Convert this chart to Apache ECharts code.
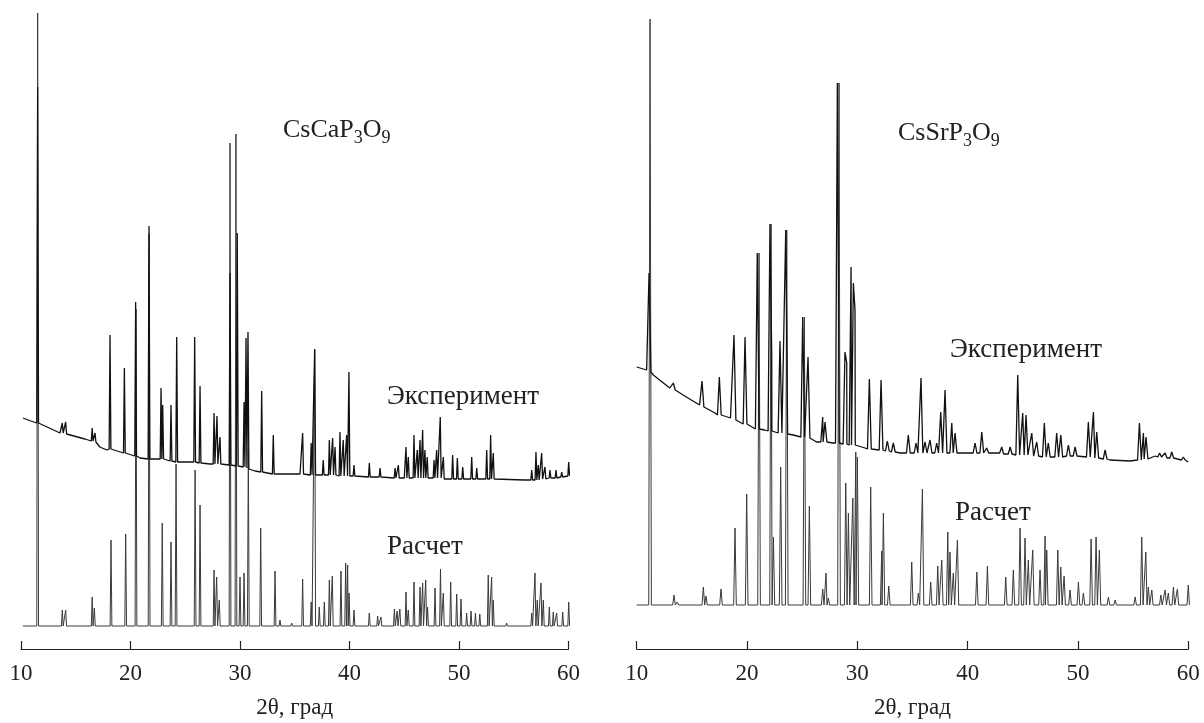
<!DOCTYPE html>
<html><head><meta charset="utf-8">
<script src="https://cdn.jsdelivr.net/npm/echarts@6/dist/echarts.min.js"></script>
<style>html,body{margin:0;padding:0;background:#fff}#c{width:1204px;height:723px}</style>
</head><body><div id="c"></div>
<script>
// ---- DATA (2θ in degrees, intensity in arbitrary units) ----
const xTicks = [10, 20, 30, 40, 50, 60];
const labelsLeft = { formula: ['CsCaP', '3', 'O', '9'], exp: 'Эксперимент', calc: 'Расчет' };
const labelsRight = { formula: ['CsSrP', '3', 'O', '9'], exp: 'Эксперимент', calc: 'Расчет' };
const axisTitle = '2θ, град';

// Left panel (CsCaP3O9): experimental background [2θ, I]
const caExpBackground = [[10.18,231],[10.9,228],[11.74,226],[13.56,216],[15.84,210],[17.2,202],[17.85,199],[20.87,191],[24.52,187],[27.26,185],[29.09,184],[31.37,178],[33.2,175],[35.48,175],[40,173],[45,171],[52,170],[56,169],[59,172],[60.1,173]];
// experimental peaks [2θ, top, local background]
const caExpPeaks = [[11.52,562,226],[13.77,226,216],[14.08,227,215],[16.5,221,208],[16.76,216,207],[18.13,314,200],[19.44,281,196],[20.47,347,193],[21.69,423,190],[22.79,261,190],[22.94,244,190],[23.7,244,188],[24.22,312,187],[25.86,312,187],[26.35,263,186],[27.63,236,185],[27.9,233,185],[28.17,212,185],[29.09,376,184],[29.75,416,183],[30.37,247,182],[30.55,311,181],[30.73,317,180],[31.98,258,177],[33.04,214,175],[34.72,177,175],[35.72,216,175],[36.5,206,174],[36.82,300,174],[37.6,189,174],[38.16,209,174],[38.46,211,174],[38.68,202,174],[39.13,217,173],[39.43,209,173],[39.74,214,173],[39.95,277,173],[40.41,184,173],[41.81,186,172],[42.79,181,172],[44.16,181,171],[44.46,184,171],[45.16,202,171],[45.37,192,171],[45.89,214,171],[46.19,199,171],[46.44,209,171],[46.68,219,171],[46.89,199,171],[47.1,192,171],[47.72,189,171],[47.96,199,171],[48.29,232,171],[48.57,192,170],[49.42,194,170],[49.85,191,170],[50.34,182,170],[51.16,192,170],[51.62,181,170],[52.53,199,170],[52.89,214,170],[53.13,196,170],[56.64,179,169],[57.03,197,169],[57.24,184,169],[57.55,196,170],[57.85,182,170],[58.31,179,171],[58.86,179,171],[59.38,177,172],[60.02,187,173]];
// calculated pattern: background level and peaks [2θ, top]
const caCalcBackground = 23;
const caCalcRange = [10.18, 60.1];
const caCalcPeaks = [[11.52,636],[13.77,39],[14.08,39],[16.5,52],[16.7,41],[18.22,109],[19.56,115],[20.5,340],[21.7,415],[22.9,126],[23.7,107],[24.16,185],[25.9,179],[26.35,144],[27.63,79],[27.87,72],[28.11,49],[29.09,506],[29.63,515],[30.0,72],[30.37,76],[30.76,200],[31.89,121],[33.2,78],[33.65,29],[34.72,26],[35.72,70],[36.5,47],[36.82,299],[37.24,42],[37.7,47],[38.16,69],[38.43,73],[39.22,78],[39.65,86],[39.83,84],[39.96,56],[40.41,39],[41.81,36],[42.57,33],[42.87,32],[44.1,40],[44.35,38],[44.6,40],[45.16,57],[45.37,39],[45.89,67],[46.44,62],[46.68,66],[46.96,69],[47.13,42],[47.81,61],[48.31,80],[48.57,56],[49.24,67],[49.79,55],[50.18,50],[50.7,36],[51.1,38],[51.5,36],[51.9,35],[52.67,74],[52.98,72],[53.13,49],[54.35,26],[56.64,36],[56.94,76],[57.15,49],[57.49,66],[57.7,49],[58.25,42],[58.61,37],[58.92,36],[59.47,37],[60.02,47]];

// Right panel (CsSrP3O9)
const srExpBackground = [[10.0,282],[10.9,279],[11.5,274],[13.0,261],[14.5,252],[15.7,244],[17.1,236],[18.5,231],[20.0,224],[21.6,219],[24.2,214],[26.3,207],[27.8,206],[30.7,201],[33.9,196],[38.4,196],[42.9,196],[47.0,192],[50.0,193],[52.9,189],[54.7,188],[57.0,193],[59.0,190],[60.0,187]];
const srExpPeaks = [[11.12,376,277],[13.32,266,259],[15.92,268,242],[17.49,272,234],[18.82,314,229],[19.82,312,225],[20.93,396,220],[22.08,425,218],[22.24,294,218],[22.99,308,216],[23.51,419,215],[25.05,332,212],[25.53,292,211],[26.86,232,207],[27.07,227,207],[28.19,566,206],[28.88,297,205],[29.04,286,205],[29.43,382,204],[29.64,366,204],[29.79,339,204],[31.09,270,200],[32.15,269,199],[32.72,208,198],[33.26,206,197],[34.62,214,196],[35.32,206,196],[35.77,271,196],[36.14,207,196],[36.59,209,196],[37.19,206,196],[37.56,237,196],[37.95,259,196],[38.56,226,196],[38.86,216,196],[40.67,206,196],[41.28,217,196],[41.73,201,196],[43.09,202,195],[43.85,202,195],[44.54,274,194],[44.99,236,194],[45.29,234,194],[45.81,216,193],[46.26,207,193],[46.95,226,192],[47.31,206,192],[48.07,216,192],[48.44,214,192],[49.13,204,193],[49.74,202,193],[50.94,227,192],[51.4,237,191],[51.7,217,191],[52.46,199,190],[55.57,226,189],[55.93,216,190],[56.17,212,190],[57.4,196,192],[57.9,196,191],[58.5,197,191],[59.55,192,189]];
const srCalcBackground = 44;
const srCalcRange = [10.0, 60.1];
const srCalcPeaks = [[11.21,630],[13.38,54],[13.68,47],[16.04,62],[16.28,53],[17.64,60],[18.91,121],[19.97,155],[21.09,396],[22.18,425],[22.39,112],[23.05,182],[23.6,419],[25.2,332],[25.65,143],[26.86,60],[27.16,76],[27.37,51],[28.34,566],[28.95,166],[29.19,136],[29.59,151],[29.86,197],[30.0,192],[31.21,162],[32.21,98],[32.36,136],[32.85,63],[34.93,87],[35.53,56],[35.9,160],[36.65,67],[37.29,83],[37.65,89],[38.2,117],[38.4,97],[38.7,76],[39.07,109],[40.83,77],[41.79,83],[43.45,72],[44.14,79],[44.75,121],[45.2,111],[45.5,89],[45.9,99],[46.56,79],[47.02,113],[47.17,99],[48.17,99],[48.44,82],[48.74,73],[49.28,59],[50.04,67],[50.49,56],[51.19,110],[51.64,112],[51.94,99],[52.76,52],[53.37,49],[55.18,52],[55.78,112],[56.15,97],[56.38,62],[56.69,59],[57.51,54],[57.9,59],[58.19,56],[58.65,62],[59.01,60],[60.0,64]];

// ---- build line data from the read values ----
function expLine(bg, peaks, w) {
  const pts = bg.filter(b => !peaks.some(p => Math.abs(p[0] - b[0]) <= w)).map(b => [b[0], b[1]]);
  peaks.forEach(p => { pts.push([p[0] - w, p[2]], [p[0], p[1]], [p[0] + w, p[2]]); });
  return pts.sort((a, b) => a[0] - b[0]);
}
function calcLine(base, range, peaks, w) {
  const pts = [[range[0], base], [range[1], base]];
  peaks.forEach(p => { pts.push([p[0] - w, base], [p[0], p[1]], [p[0] + w, base]); });
  return pts.sort((a, b) => a[0] - b[0]);
}

const FONT = "'Liberation Serif', 'DejaVu Serif', serif";
const TXT = '#222';
const MAIN = 26, SUB = 18;
const grids = [
  { left: 21, width: 547.5, top: 0, height: 649, outerBoundsMode: 'none', containLabel: false },
  { left: 636.7, width: 551.6, top: 0, height: 649, outerBoundsMode: 'none', containLabel: false }
];
function xAx(i) {
  return {
    type: 'value', gridIndex: i, min: 10, max: 60, interval: 10,
    axisLine: { lineStyle: { color: '#222', width: 1.2 } },
    axisTick: { inside: true, length: 8, lineStyle: { color: '#222', width: 1.2 } },
    axisLabel: { fontFamily: FONT, fontSize: 23, color: TXT, margin: 13,
      formatter: v => xTicks.includes(v) ? String(v) : '' },
    splitLine: { show: false },
    name: axisTitle, nameLocation: 'middle', nameGap: 47,
    nameTextStyle: { fontFamily: FONT, fontSize: 23, color: TXT }
  };
}
function yAx(i) { return { type: 'value', gridIndex: i, min: 0, max: 649, show: false }; }
function ser(i, data, color, width) {
  return { type: 'line', xAxisIndex: i, yAxisIndex: i, data, showSymbol: false, symbol: 'none',
    lineStyle: { color, width }, animation: false, silent: true, clip: false };
}
function txt(x, y, text, size) {
  return { type: 'text', x, y, silent: true,
    style: { text, fill: TXT, font: `${size}px ${FONT}`, verticalAlign: 'middle', align: 'left' } };
}
const measureCtx = document.createElement('canvas').getContext('2d');
function textWidth(s, size) { measureCtx.font = `${size}px ${FONT}`; return measureCtx.measureText(s).width; }
function formula(x, y, parts) {
  const out = [];
  let cx = x;
  parts.forEach((p, k) => {
    const sub = k % 2 === 1;
    const size = sub ? SUB : MAIN;
    out.push(txt(cx, sub ? y + 8 : y, p, size));
    cx += textWidth(p, size);
  });
  return out;
}

const chart = echarts.init(document.getElementById('c'), null, { renderer: 'canvas' });
chart.setOption({
  backgroundColor: '#fff',
  animation: false,
  grid: grids,
  xAxis: [xAx(0), xAx(1)],
  yAxis: [yAx(0), yAx(1)],
  series: [
    ser(0, calcLine(caCalcBackground, caCalcRange, caCalcPeaks, 0.08), '#3a3a3a', 1),
    ser(0, expLine(caExpBackground, caExpPeaks, 0.08), '#111', 1.3),
    ser(1, calcLine(srCalcBackground, srCalcRange, srCalcPeaks, 0.12), '#3a3a3a', 1),
    ser(1, expLine(srExpBackground, srExpPeaks, 0.17), '#111', 1.3)
  ],
  graphic: [
    ...formula(283, 130, labelsLeft.formula),
    txt(387, 397, labelsLeft.exp, 27),
    txt(387, 547, labelsLeft.calc, 27),
    ...formula(898, 133, labelsRight.formula),
    txt(950, 350, labelsRight.exp, 27),
    txt(955, 513, labelsRight.calc, 27)
  ]
});
</script></body></html>
